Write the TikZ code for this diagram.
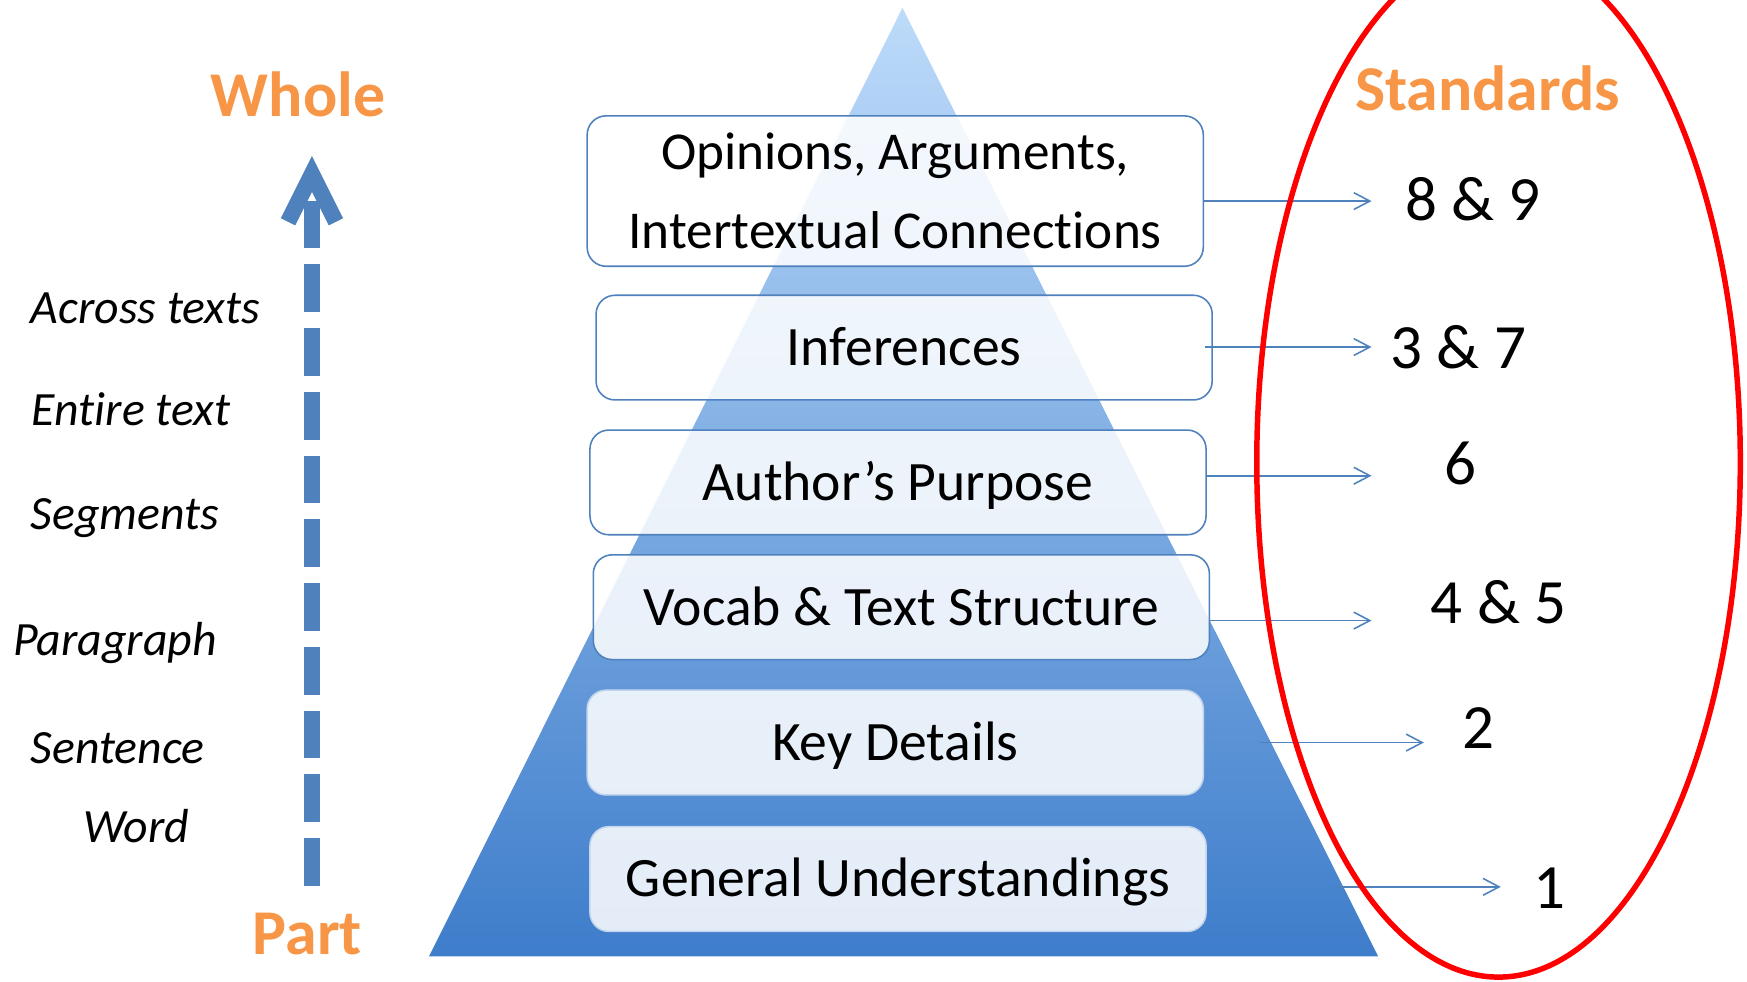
\documentclass[tikz,border=0pt]{standalone}
\usepackage{fontspec}
\setmainfont{Carlito}[Ligatures=NoCommon,Contextuals=NoAlternate]
\usetikzlibrary{arrows.meta,calc}
\definecolor{Orng}{HTML}{F79646}
\definecolor{Stl}{HTML}{4F81BD}
\definecolor{PaleEdge}{HTML}{C3D5EC}
\definecolor{TriTop}{RGB}{189,219,250}
\definecolor{TriBot}{RGB}{62,125,203}
\newcommand{\fs}[2]{\fontsize{#1}{#2}\selectfont}

\begin{document}
\begin{tikzpicture}[x=0.1mm,y=-0.1mm]
	\tikzset{tier/.style={draw=Stl,line width=0.4pt,rounded corners=1.7mm,fill=white,fill opacity=0.86,text opacity=1,
		minimum width=55.3mm,minimum height=9.4mm,inner sep=0pt,font=\fs{14.2pt}{20.2pt},text height=9.15pt,text depth=0pt}}
	\tikzset{low tier/.style={tier,draw=PaleEdge}}
	\tikzset{link/.style={draw=Stl,line width=0.4pt,-{Straight Barb[length=4.1pt,width=4.3pt]}}}
	\tikzset{stdnum/.style={font=\fs{16.1pt}{18pt},anchor=base,inner sep=0pt}}
	\tikzset{scalelbl/.style={font=\fs{12.2pt}{14pt}\itshape,anchor=base west,inner sep=0pt}}
	\tikzset{heading/.style={font=\fs{16.3pt}{18pt}\bfseries,text=Orng,anchor=base,inner sep=0pt}}
	\useasboundingbox (0,0) rectangle (1568,881);
	\shade[top color=TriTop,bottom color=TriBot] (810,7) -- (1237,858.5) -- (385,858.5) -- cycle;
	\node[tier,minimum height=13.5mm,align=center,text height={},text depth={},font=\fs{13.6pt}{20.2pt}] (opin) at (803.5,171.5) {Opinions, Arguments,\\Intertextual Connections};
	\node[tier] (infr) at (811.5,312) {Inferences};
	\node[tier] (purp) at (806,433) {Author’s Purpose};
	\node[tier] (vocab) at (809,545) {Vocab \& Text Structure};
	\node[low tier] (keyd) at (803.5,666.5) {Key Details};
	\node[low tier] (genu) at (806,789) {General Understandings};
	\node[stdnum] (s89) at (1322,197.5) {8 \& 9};
	\node[stdnum] (s37) at (1309,330.5) {3 \& 7};
	\node[stdnum] (s6) at (1310.5,435) {6};
	\node[stdnum] (s45) at (1345,560) {4 \& 5};
	\node[stdnum] (s2) at (1327,671.5) {2};
	\node[stdnum] (s1) at (1391,815) {1};
	\coordinate (t89) at (1231,180.5);
	\coordinate (t37) at (1231,311.5);
	\coordinate (t6) at (1231,427);
	\coordinate (t45) at (1231,557);
	\coordinate (t2) at (1278,666.5);
	\coordinate (t1) at (1347,796);
	\draw[link] (opin.east |- t89) -- (t89);
	\draw[link] ($(infr.east |- t37)+(-7,0)$) -- (t37);
	\draw[link] (purp.east |- t6) -- (t6);
	\draw[link] (vocab.east |- t45) -- (t45);
	\draw[link] ($(keyd.east |- t2)+(50,0)$) -- (t2);
	\draw[link] ($(genu.east |- t1)+(115,0)$) -- (t1);
	\node[heading] (stds) at (1335,99.3) {Standards};
	\draw[red,line width=1.4pt] (1345,415) ellipse [x radius=21.7mm,y radius=46.2mm];
	\node[heading] (whole) at (267.5,104.7) {Whole};
	\node[heading] (part) at (276,857) {Part};
	\node[scalelbl] (l1) at (27,290) {Across texts};
	\node[scalelbl] (l2) at (28,381.5) {Entire text};
	\node[scalelbl] (l3) at (27,475.7) {Segments};
	\node[scalelbl] (l4) at (11,588) {Paragraph};
	\node[scalelbl] (l5) at (27,685) {Sentence};
	\node[scalelbl] (l6) at (74,756.6) {Word};
	\coordinate (lo) at (280,795);
	\coordinate (hi) at (280,140);
	\draw[Stl,line width=4.1pt,dash pattern=on 4.28mm off 1.44mm,-{Straight Barb[length=4.3mm,width=4.3mm]}] (lo) -- (hi);
\end{tikzpicture}
\end{document}
